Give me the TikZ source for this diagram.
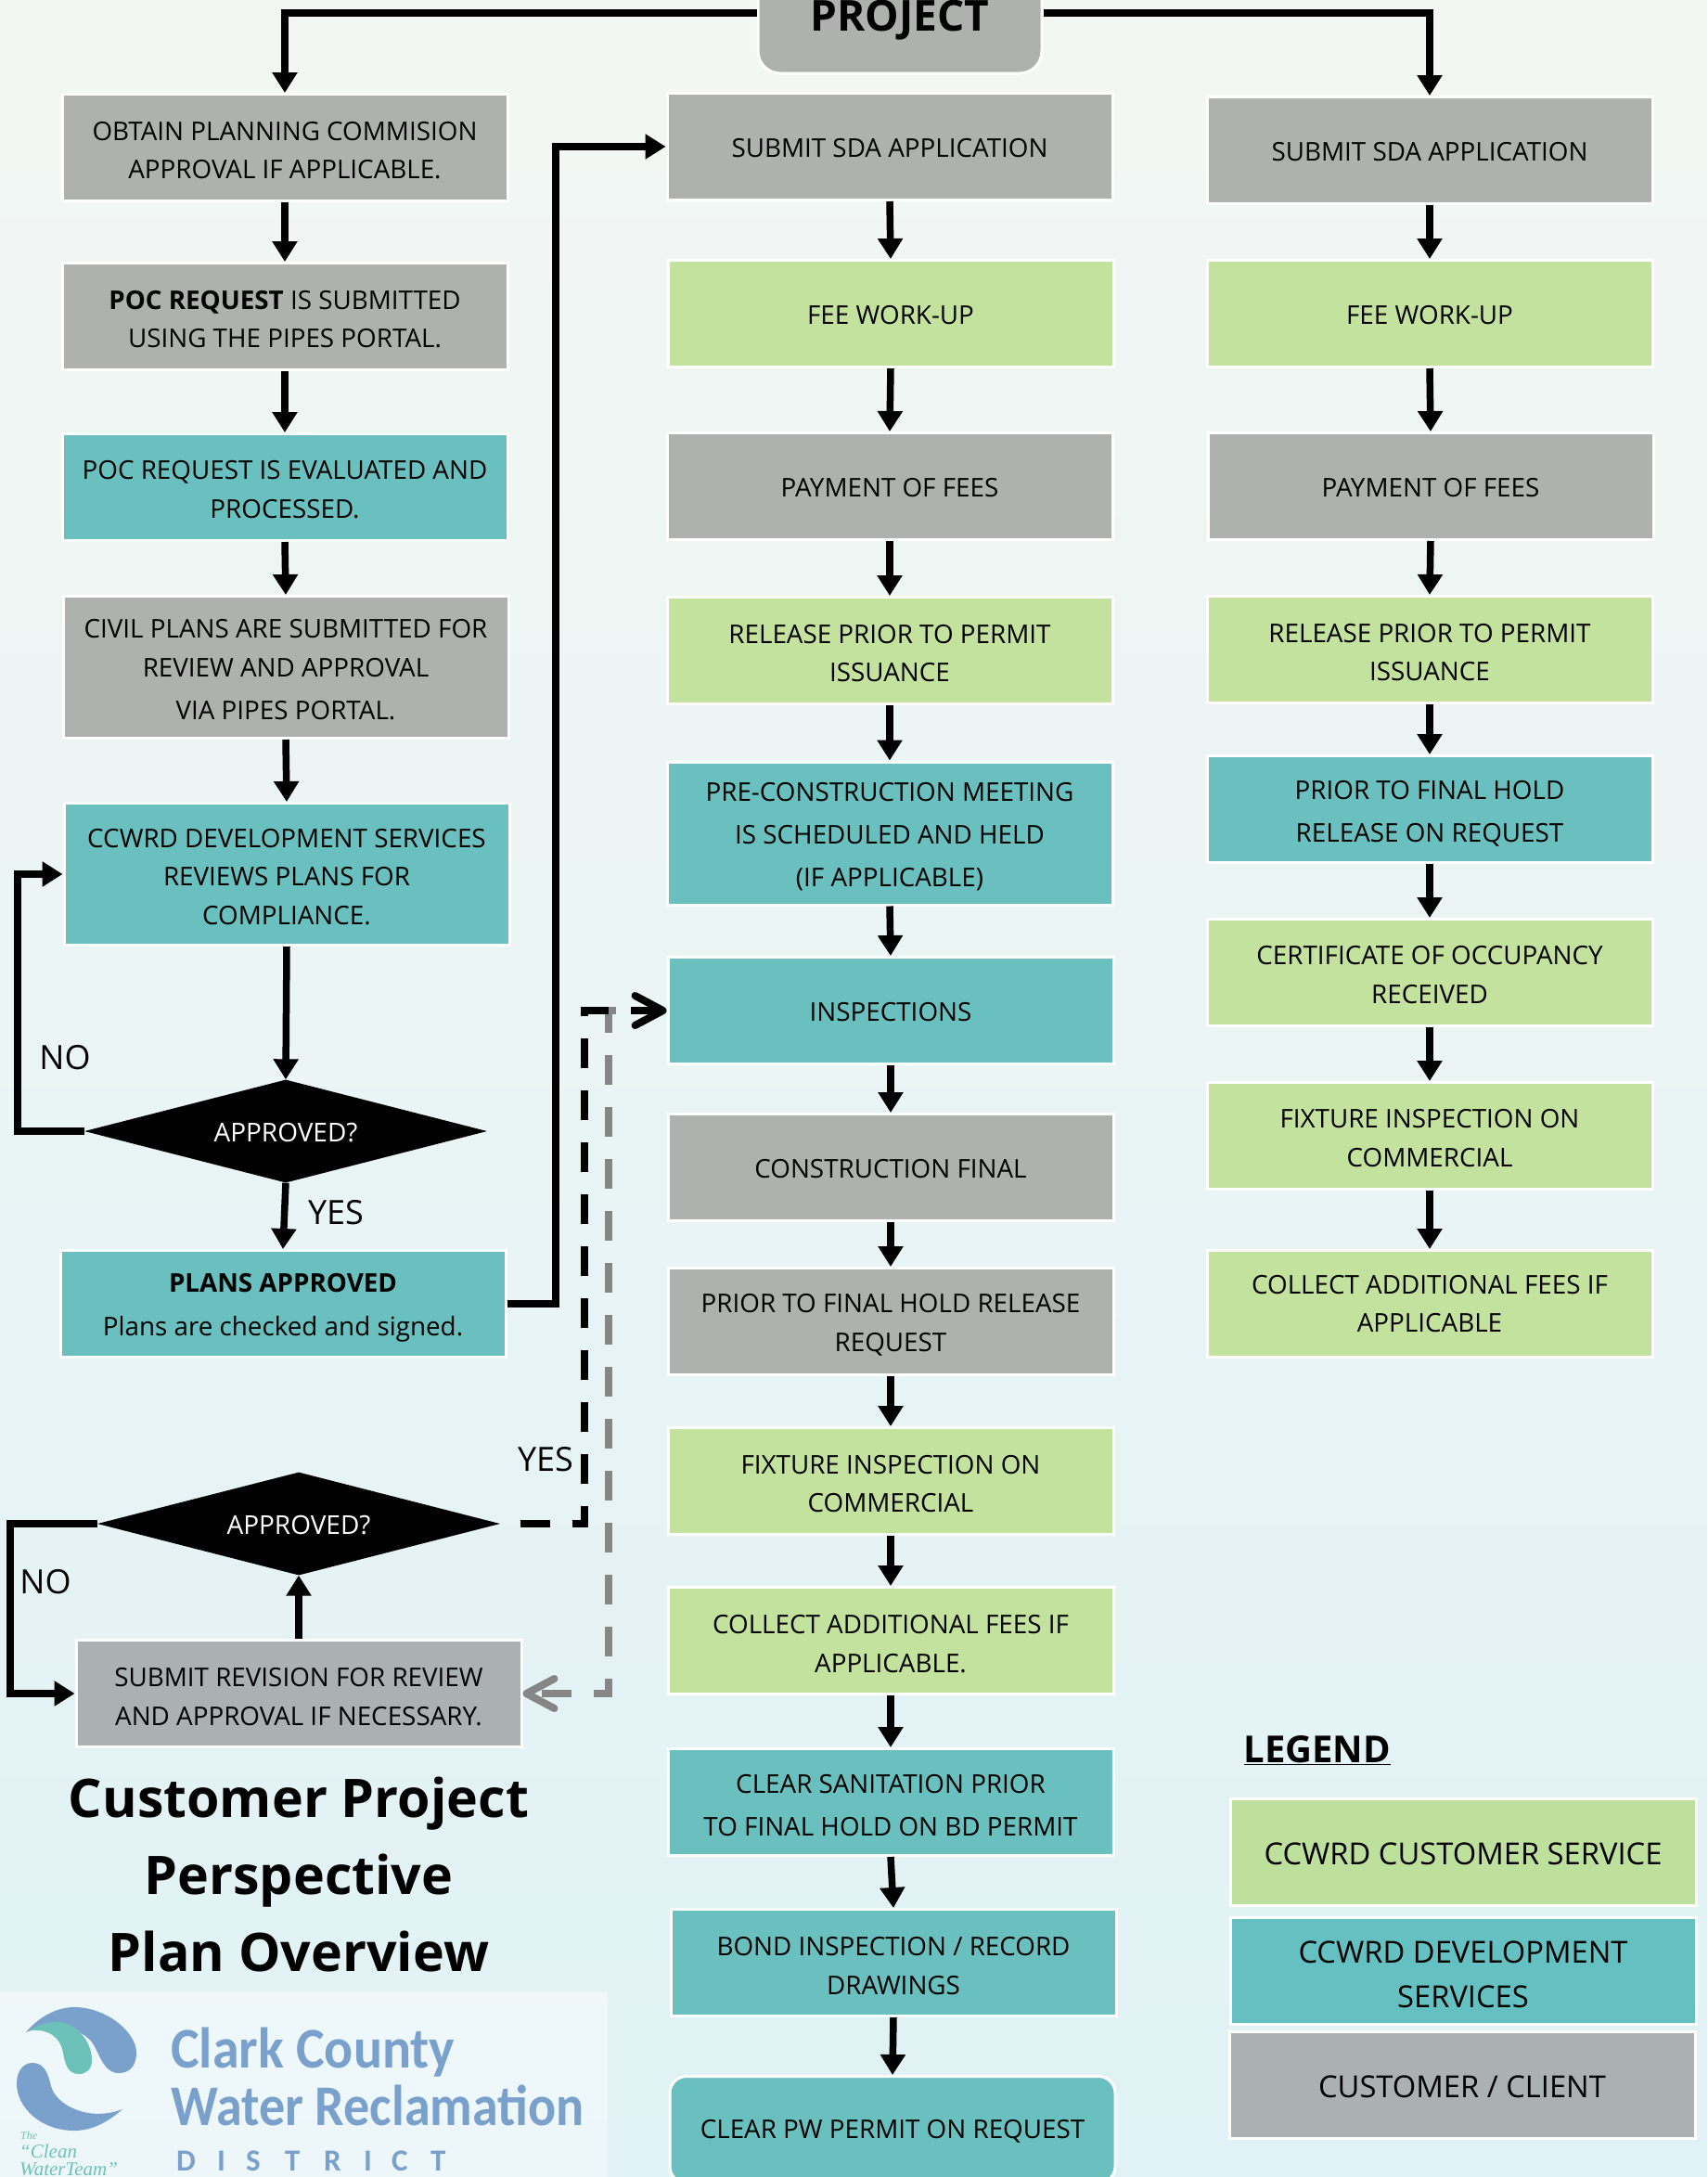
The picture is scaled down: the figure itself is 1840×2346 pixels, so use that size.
\documentclass[tikz,border=0pt]{standalone}
\usepackage{graphicx}
\usepackage{fontspec}
\setmainfont{Open Sans}
\newfontfamily\logofont{Carlito}
\newfontfamily\signfont{Liberation Serif}
\usetikzlibrary{arrows.meta,shapes.geometric}

\definecolor{stepgrey}{HTML}{AFB1AF}
\definecolor{stepgreen}{HTML}{C2E29E}
\definecolor{stepteal}{HTML}{69C0BF}
\definecolor{legendgreen}{HTML}{BDE19D}
\definecolor{legendteal}{HTML}{65C0C1}
\definecolor{legendgrey}{HTML}{AAB1B0}
\definecolor{logoblue}{HTML}{7AA0CC}
\definecolor{logoteal}{HTML}{6CC1B8}
\definecolor{backtop}{HTML}{F3F7F4}
\definecolor{backlow}{HTML}{E0F2F5}

\newcommand{\lift}[1]{\rule{0pt}{#1em}}

\begin{document}
\begin{tikzpicture}[x=1pt, y=-1pt,
    stepbox/.style = {rectangle, draw=white, line width=3pt, minimum width=480pt, minimum height=115pt, inner sep=0pt, align=center, font=\fontsize{27.8}{41.5}\selectfont},
    capmid/.style = {execute at begin node={\rule{0pt}{.86em}}},
    grey/.style = {stepbox, capmid, fill=stepgrey},
    green/.style = {stepbox, capmid, fill=stepgreen},
    teal/.style = {stepbox, capmid, fill=stepteal},
    wide/.style = {font=\fontsize{27.8}{46}\selectfont},
    legend/.style = {stepbox, capmid, minimum width=502pt, font=\fontsize{32.7}{48}\selectfont},
    decision/.style = {diamond, capmid, fill=black, text=white, inner sep=0pt, minimum width=434pt, minimum height=111pt, aspect=3.9, font=\fontsize{28}{34}\selectfont},
    flow/.style = {draw=black, line width=7.5pt, -{Triangle[length=22pt,width=26pt]}},
    thickflow/.style = {flow, line width=8pt},
    dashflow/.style = {line width=8pt, dash pattern=on 32pt off 24pt, -{Straight Barb[length=30pt,width=32pt,round]}},
    tag/.style = {capmid, font=\fontsize{36}{40}\selectfont},
    logotext/.style = {anchor=base west, text=logoblue, inner sep=0pt, font=\logofont\bfseries\fontsize{62}{62}\selectfont},
    signtext/.style = {anchor=base west, text=logoteal, inner sep=0pt, font=\signfont\itshape\fontsize{21}{21}\selectfont}]
    \useasboundingbox (0,0) rectangle (1840,2346);
    \clip (0,0) rectangle (1840,2346);
    \fill[top color=backtop, bottom color=backlow] (0,0) rectangle (1840,2346);

    % top
    \node[stepbox, fill=stepgrey, rounded corners=24pt, minimum width=306pt, minimum height=130pt, font=\bfseries\fontsize{46}{48}\selectfont] (project) at (970,14) {\raisebox{-3pt}[33pt][0pt]{PROJECT}};

    % left column
    \node[grey] (l1) at (307,159) {\lift{.94}OBTAIN PLANNING COMMISION\\APPROVAL IF APPLICABLE.};
    \node[grey] (l2) at (307,341) {\lift{.94}\textbf{POC REQUEST} IS SUBMITTED\\USING THE PIPES PORTAL.};
    \node[teal] (l3) at (307,525) {\lift{.915}POC REQUEST IS EVALUATED AND\\PROCESSED.};
    \node[grey, minimum height=153pt] (l4) at (308,719) {\lift{.94}CIVIL PLANS ARE SUBMITTED FOR\\REVIEW AND APPROVAL\\[5pt]VIA PIPES PORTAL.};
    \node[teal, minimum height=153pt] (l5) at (309,942) {\lift{.915}CCWRD DEVELOPMENT SERVICES\\REVIEWS PLANS FOR\\COMPLIANCE.};
    \node[decision] (d1) at (308,1219) {APPROVED?};
    \node[teal] (l6) at (305,1405) {\lift{1.02}\textbf{PLANS APPROVED}\\[5pt]Plans are checked and signed.};
    \node[decision] (d2) at (322,1642) {APPROVED?};
    \node[grey, fill=legendgrey] (l7) at (322,1825) {\lift{.97}SUBMIT REVISION FOR REVIEW\\AND APPROVAL IF NECESSARY.};

    % middle column
    \node[grey] (m1) at (959,158) {SUBMIT SDA APPLICATION};
    \node[green] (m2) at (960,338) {FEE WORK-UP};
    \node[grey] (m3) at (959,524) {PAYMENT OF FEES};
    \node[green] (m4) at (959,701) {\lift{.94}RELEASE PRIOR TO PERMIT\\ISSUANCE};
    \node[teal, minimum height=154pt, wide] (m5) at (959,898) {\lift{1.02}PRE-CONSTRUCTION MEETING\\IS SCHEDULED AND HELD\\(IF APPLICABLE)};
    \node[teal] (m6) at (960,1089) {INSPECTIONS};
    \node[grey] (m7) at (960,1258) {CONSTRUCTION FINAL};
    \node[grey] (m8) at (960,1424) {\lift{.995}PRIOR TO FINAL HOLD RELEASE\\REQUEST};
    \node[green] (m9) at (960,1596) {\lift{.94}FIXTURE INSPECTION ON\\COMMERCIAL};
    \node[green] (m10) at (960,1768) {\lift{.97}COLLECT ADDITIONAL FEES IF\\APPLICABLE.};
    \node[teal, wide] (m11) at (960,1942) {\lift{.995}CLEAR SANITATION PRIOR\\TO FINAL HOLD ON BD PERMIT};
    \node[teal] (m12) at (963,2115) {\lift{.995}BOND INSPECTION / RECORD\\DRAWINGS};
    \node[teal, rounded corners=18pt] (m13) at (962,2295) {CLEAR PW PERMIT ON REQUEST};

    % right column
    \node[grey] (r1) at (1541,162) {SUBMIT SDA APPLICATION};
    \node[green] (r2) at (1541,338) {FEE WORK-UP};
    \node[grey] (r3) at (1542,524) {PAYMENT OF FEES};
    \node[green] (r4) at (1541,700) {\lift{.93}RELEASE PRIOR TO PERMIT\\ISSUANCE};
    \node[teal, wide] (r5) at (1541,872) {\lift{1.075}PRIOR TO FINAL HOLD\\RELEASE ON REQUEST};
    \node[green] (r6) at (1541,1048) {\lift{.915}CERTIFICATE OF OCCUPANCY\\RECEIVED};
    \node[green] (r7) at (1541,1224) {\lift{.915}FIXTURE INSPECTION ON\\COMMERCIAL};
    \node[green] (r8) at (1541,1405) {COLLECT ADDITIONAL FEES IF\\APPLICABLE};

    % legend
    \node[font=\bfseries\fontsize{40}{44}\selectfont, anchor=west] (legendtitle) at (1337,1886) {\underline{LEGEND}};
    \node[legend, fill=legendgreen] (k1) at (1577,1996) {CCWRD CUSTOMER SERVICE};
    \node[legend, fill=legendteal] (k2) at (1577,2124) {\lift{.95}CCWRD DEVELOPMENT\\SERVICES};
    \node[legend, fill=legendgrey] (k3) at (1576,2247) {CUSTOMER / CLIENT};

    % title
    \node[align=center, font=\bfseries\fontsize{57.3}{83}\selectfont] (title) at (322,2020) {Customer Project\\Perspective\\Plan Overview};

    % labels
    \node[tag] (no1) at (70,1137) {NO};
    \node[tag] (yes1) at (362,1304) {YES};
    \node[tag] (yes2) at (588,1570) {YES};
    \node[tag] (no2) at (49,1702) {NO};

    % straight arrows
    \foreach \a/\b in {l1/l2, l2/l3, l3/l4, l4/l5, l5/d1, d1/l6,
        m1/m2, m2/m3, m3/m4, m4/m5, m5/m6, m6/m7, m7/m8, m8/m9, m9/m10, m10/m11, m11/m12, m12/m13,
        r1/r2, r2/r3, r3/r4, r4/r5, r5/r6, r6/r7, r7/r8}
        \draw[flow] (\a.south) -- (\b.north);
    \draw[flow] (l7.north) -- (d2.south);

    % elbows
    \draw[thickflow] (project.west) -| (l1.north);
    \draw[thickflow] (project.east) -| (r1.north);
    \coordinate (loop1) at (19,1219);
    \coordinate (loop2) at (11,1642);
    \coordinate (riser) at (599,1405);
    \coordinate (blackbend) at (630,1642);
    \coordinate (greystart) at (664,1089);
    \coordinate (greybend) at (656,1825);
    \draw[flow] (d1.west) -- (loop1) |- (l5.west);
    \draw[flow] (d2.west) -- (loop2) |- (l7.west);
    \draw[thickflow] (l6.east) -- (riser) |- (m1.west);

    % dashed returns
    \draw[dashflow, draw=gray!95, dash phase=0pt] (greystart) -- (656,1089) -- (greybend) -- (l7.east);
    \draw[dashflow, draw=black, dash phase=34pt] (d2.east) -- (blackbend) |- (m6.west);

    % logo
    \fill[white, opacity=.45] (0,2146) rectangle (655,2346);
    \fill[logoblue] (28,2190) .. controls (45,2170) and (65,2163) .. (80,2163)
        .. controls (115,2163) and (147,2190) .. (147,2212)
        .. controls (147,2228) and (138,2234) .. (128,2234)
        .. controls (112,2234) and (108,2215) .. (100,2202)
        .. controls (90,2187) and (60,2178) .. (28,2190) -- cycle;
    \fill[logoteal] (32,2188) .. controls (42,2181) and (52,2179) .. (62,2179)
        .. controls (80,2179) and (99,2198) .. (99,2220)
        .. controls (99,2230) and (93,2235) .. (85,2235)
        .. controls (72,2235) and (70,2222) .. (68,2212)
        .. controls (65,2195) and (52,2186) .. (32,2188) -- cycle;
    \fill[logoblue] (132,2273) .. controls (115,2288) and (98,2296) .. (80,2296)
        .. controls (45,2296) and (18,2272) .. (18,2245)
        .. controls (18,2231) and (26,2223) .. (35,2223)
        .. controls (48,2223) and (52,2235) .. (55,2248)
        .. controls (60,2268) and (95,2287) .. (132,2273) -- cycle;
    \node[logotext] (clark) at (184,2228) {\scalebox{.935}[1]{Clark County}};
    \node[logotext] (water) at (184,2290) {\scalebox{.905}[1]{Water Reclamation}};
    \foreach \c/\x in {D/190, I/234, S/265, T/307, R/349, I/392, C/422, T/464}
        \node[logotext, font=\logofont\bfseries\fontsize{33}{33}\selectfont] at (\x,2339) {\c};
    \node[signtext, font=\signfont\itshape\fontsize{12}{12}\selectfont] (the) at (22,2305) {The};
    \node[signtext] (clean) at (21,2325) {“Clean};
    \node[signtext] (team) at (21,2344) {WaterTeam”};
\end{tikzpicture}
\end{document}
